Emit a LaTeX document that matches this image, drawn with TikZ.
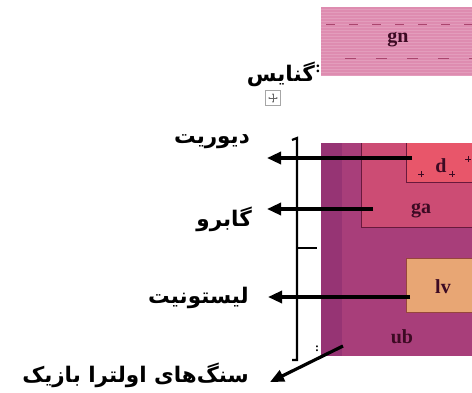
\documentclass[tikz,border=0pt]{standalone}
\usepackage{fontspec}
\setmainfont{Liberation Serif}
\newfontfamily\arabicfont[Script=Arabic]{DejaVu Sans}
\TeXXeTstate=1
\usetikzlibrary{arrows.meta}

\definecolor{gncol}{RGB}{222,140,176}
\definecolor{gnline}{RGB}{170,70,110}
\definecolor{ubcol}{RGB}{168,62,122}
\definecolor{ubdark}{RGB}{150,52,116}
\definecolor{gacol}{RGB}{204,76,116}
\definecolor{dcol}{RGB}{232,86,106}
\definecolor{lvcol}{RGB}{232,166,116}
\definecolor{edge}{RGB}{105,25,60}
\definecolor{lvedge}{RGB}{150,70,60}
\definecolor{ink}{RGB}{60,10,35}

\tikzset{
  rocklabel/.style={font=\bfseries\fontsize{20}{20}\selectfont, text=ink, inner sep=0pt},
  fa/.style={font=\arabicfont\bfseries\fontsize{21.5}{24}\selectfont, inner sep=0pt},
  pointer/.style={line width=3.2pt, -{Triangle[length=14pt,width=12pt]}},
  brace/.style={line width=2.2pt},
}

\begin{document}
\begin{tikzpicture}[x=1pt,y=-1pt]
\useasboundingbox (0,0) rectangle (472,392);

% gneiss sample
\fill[gncol] (321,7) rectangle (472,76);
\foreach \yy in {9,12,...,75} \draw[gncol!85!white, line width=0.5pt] (321,\yy) -- (472,\yy);
\draw[gnline, line width=1pt, dash pattern=on 9pt off 14pt] (326,24) -- (472,24);
\draw[gnline, line width=1pt, dash pattern=on 11pt off 20pt, dash phase=12pt] (326,58) -- (472,58);
\node[rocklabel] (gn) at (398,40) {gn};
\node[font=\bfseries\fontsize{16}{16}\selectfont, inner sep=0pt] (gncolon) at (318,69) {:};
\node[fa, anchor=east] (gneiss) at (315,74) {\beginR گنایس\endR};

% move handle
\node[draw=gray!70, line width=0.6pt, minimum size=15pt, inner sep=0pt] (handle) at (273,98) {};
\draw[gray!80!black, line width=0.6pt, {Stealth[length=2pt]}-{Stealth[length=2pt]}] (handle.center)+(-5,0) -- +(5,0);
\draw[gray!80!black, line width=0.6pt, {Stealth[length=2pt]}-{Stealth[length=2pt]}] (handle.center)+(0,-5) -- +(0,5);

% cross-section: ultrabasic body, gabbro, diorite, listvenite
\fill[ubcol] (321,143) rectangle (472,356);
\fill[ubdark] (321,143) rectangle (342,356);
\fill[gacol] (361,143) rectangle (472,227);
\draw[edge, line width=1pt] (361,143) -- (361,227) -- (472,227);
\fill[dcol] (406,143) rectangle (472,182);
\draw[edge, line width=1pt] (406,143) -- (406,182) -- (472,182);
\foreach \px/\py in {421/174, 452/174, 468/159}
  \draw[ink, line width=0.8pt] (\px-3,\py) -- (\px+3,\py) (\px,\py-3) -- (\px,\py+3);
\fill[lvcol] (406,258) rectangle (472,312);
\draw[lvedge, line width=1pt] (472,258) -- (406,258) -- (406,312) -- (472,312);

\node[rocklabel] (dlab) at (441,166) {d};
\node[rocklabel] (galab) at (421,211) {ga};
\node[rocklabel] (lvlab) at (443,287) {lv};
\node[rocklabel] (ublab) at (402,337) {ub};

% bracket
\coordinate (bt) at (297,138);
\coordinate (bb) at (297,360);
\coordinate (bm) at (297,248);
\draw[brace] (292,140) -- (bt) -- (bb) -- (292,360);
\draw[brace] (bm) -- (317,248);
\node[font=\bfseries\fontsize{12}{12}\selectfont, inner sep=0pt] (ubcolon) at (317,349) {:};

% labels
\node[fa, anchor=east] (dior) at (250,142) {\beginR دیوریت\endR};
\node[fa, anchor=east] (gab) at (252,219) {\beginR گابرو\endR};
\node[fa, anchor=east] (list) at (249,298) {\beginR لیستونیت\endR};
\node[fa, anchor=east] (ultra) at (249,375) {\beginR سنگ‌های اولترا بازیک\endR};

% pointers
\coordinate (ds) at (412,158);
\coordinate (dt) at (267,158);
\coordinate (gs) at (373,209);
\coordinate (gt) at (267,209);
\coordinate (ls) at (410,297);
\coordinate (lt) at (268,297);
\coordinate (us) at (343,346);
\coordinate (ut) at (270,382);
\draw[pointer] (ds) -- (dt);
\draw[pointer] (gs) -- (gt);
\draw[pointer] (ls) -- (lt);
\draw[pointer] (us) -- (ut);
\end{tikzpicture}
\end{document}
